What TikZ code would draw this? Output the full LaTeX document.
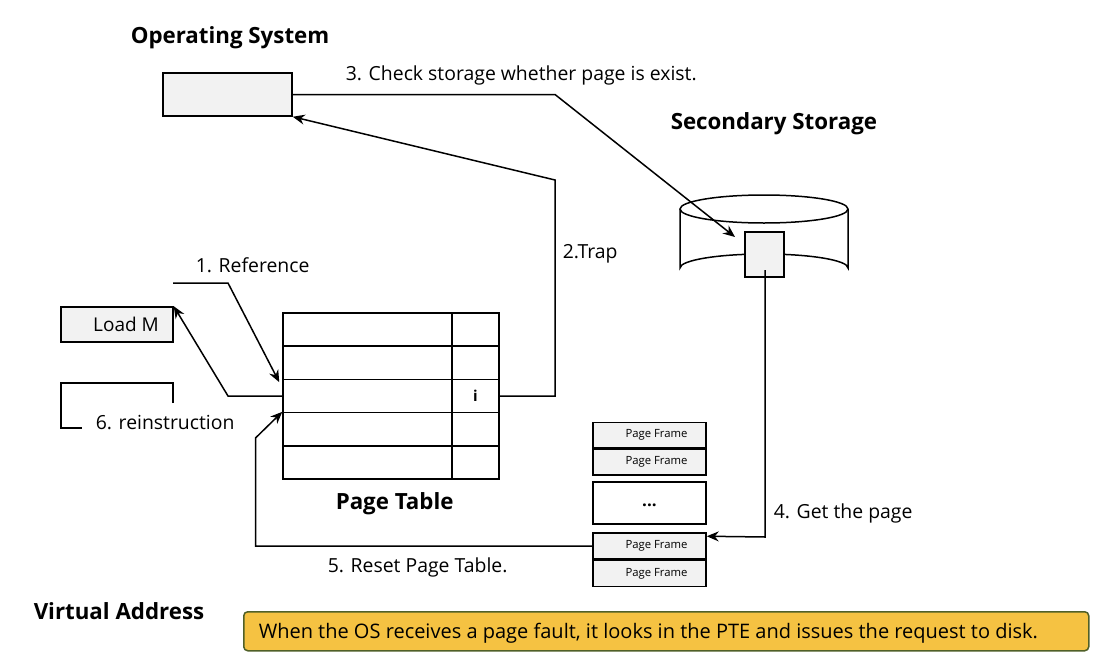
\documentclass[tikz,border=0pt]{standalone}
\usepackage{fontspec}
\setmainfont{Open Sans}
\usetikzlibrary{arrows.meta,calc}
\definecolor{boxgray}{RGB}{242,242,242}
\definecolor{noteyellow}{RGB}{245,194,66}
\definecolor{noteborder}{RGB}{80,96,40}
\begin{document}
\begin{tikzpicture}[x=1pt,y=-1pt,line width=1.5pt,
  >={Stealth[length=12pt,width=10pt,inset=4pt]},
  graybox/.style={draw,fill=boxgray,inner sep=0pt},
  cell/.style={draw,inner sep=0pt,minimum height=33.2pt},
  lbl/.style={font=\fontsize{19.4}{22}\selectfont,inner sep=0pt,anchor=base west},
  ttl/.style={font=\fontsize{22.3}{25}\selectfont\bfseries,inner sep=0pt,anchor=base west},
  small/.style={font=\fontsize{11.3}{13}\selectfont}]
\useasboundingbox (0,0) rectangle (1098,656);

% titles
\node[ttl] (tOS) at (130,43) {Operating System};
\node[ttl] (tSS) at (670,129) {Secondary Storage};
\node[ttl] (tPT) at (335,509) {Page Table};
\node[ttl] (tVA) at (33,619) {Virtual Address};

% OS box
\node[graybox,minimum width=129pt,minimum height=43pt] (os) at (227.5,94.5) {};

% Load M
\node[graybox,minimum width=112pt,minimum height=35pt,font=\fontsize{19}{20}\selectfont] (loadm) at (117,324.5) {\hspace*{18pt}Load M};

% page table
\foreach \r/\yy in {1/329.6,2/362.8,3/396,4/429.2,5/462.4}{
  \node[cell,minimum width=169pt] (r\r l) at (367.5,\yy) {};
  \node[cell,minimum width=47pt] (r\r r) at (475.5,\yy) {};
}
\node[font=\fontsize{15}{16}\selectfont\bfseries] (ibit) at (r3r.center) {i};

% disk
\draw[fill=white] (680,209) -- (680,268) arc[start angle=180,end angle=360,x radius=84,y radius=14] -- (848,209);
\draw[fill=white] (764,209) ellipse[x radius=84,y radius=14];
\node[graybox,minimum width=39pt,minimum height=45pt] (dpage) at (764.5,254.5) {};

% page frames
\node[graybox,minimum width=113pt,minimum height=25.5pt,small] (f1) at (649.5,435) {\hspace*{14pt}Page Frame};
\node[graybox,minimum width=113pt,minimum height=25.5pt,small,anchor=north] (f2) at (f1.south) {\hspace*{14pt}Page Frame};
\node[draw,fill=white,minimum width=113pt,minimum height=42pt,inner sep=0pt,font=\fontsize{17}{20}\selectfont\bfseries] (fd) at (649.5,503) {\raisebox{-8pt}{...}};
\node[graybox,minimum width=113pt,minimum height=26pt,small] (f3) at (649.5,546) {\hspace*{14pt}Page Frame};
\node[graybox,minimum width=113pt,minimum height=26pt,small,anchor=north] (f4) at (f3.south) {\hspace*{14pt}Page Frame};

% labels
\node[lbl] (l3) at (345,80) {3. Check storage whether page is exist.};
\node[lbl] (l2) at (562,258) {2.Trap};
\node[lbl] (l1) at (195,272) {1. Reference};
\node[lbl] (l6) at (95,429) {6. reinstruction};
\node[lbl] (l4) at (773,518) {4. Get the page};
\node[lbl] (l5) at (327,572) {5. Reset Page Table.};

% connectors
\coordinate (refstart) at (173,283);
\coordinate (disktip) at (735,237);
\draw[->] (refstart) -- (228,283) -- ([xshift=-3pt,yshift=-2pt]r2l.south west);
\draw[->] (r3l.west) -- (228,396) -- (loadm.north east);
\draw[->] (r3r.east) -- (555,396) -- (555,180) -- (os.south east);
\draw[->] (os.east) -- (555,94.5) -- (disktip);
\draw[->] (765,270) -- (765,537) -- ([yshift=-4pt]f3.north east);
\draw[->] (f3.west) -- (255.5,546) -- (255.5,438) -- (r4l.north west);

% reinstruction bracket
\draw (173,403) -- (173,383) -- (61,383) -- (61,428) -- (82,428);

% note
\node[draw=noteborder,fill=noteyellow,rounded corners=4pt,minimum width=845pt,minimum height=39pt,anchor=north west,inner sep=0pt] (note) at (243,611) {};
\node[lbl,font=\fontsize{20}{22}\selectfont] (notetext) at (258,638) {When the OS receives a page fault, it looks in the PTE and issues the request to disk.};
\end{tikzpicture}
\end{document}
